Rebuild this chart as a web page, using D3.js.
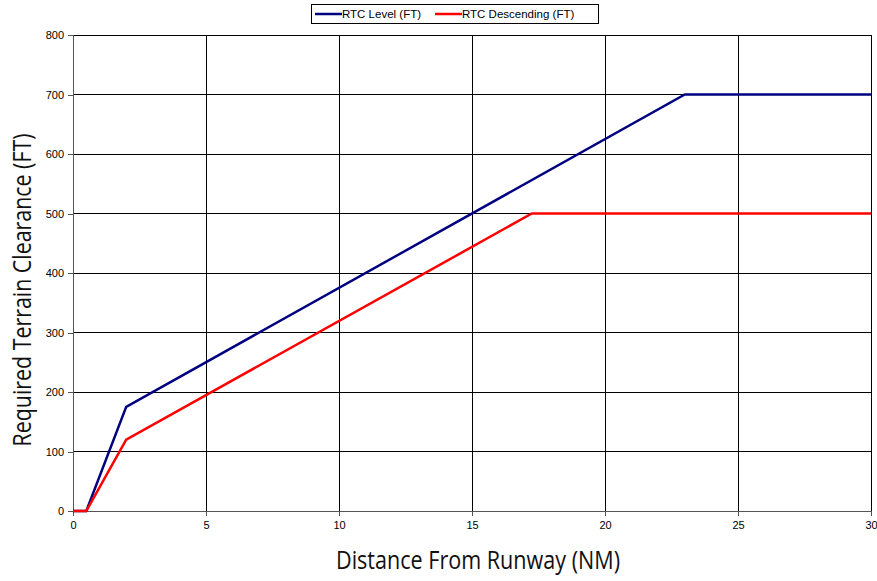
<!DOCTYPE html>
<html><head><meta charset="utf-8">
<script src="https://cdn.jsdelivr.net/npm/d3@7"></script>
<style>body{margin:0;background:#fff;}svg{display:block;}</style>
</head><body>
<svg id="c" width="877" height="581"></svg>
<script>
const seriesNames = ["RTC Level (FT)", "RTC Descending (FT)"];
const seriesColors = ["#000080", "#ff0000"];
const levelX = [0, 0.5, 2, 23, 30];
const levelY = [0, 0, 175, 700, 700];
const descX = [0, 0.5, 2, 17.25, 30];
const descY = [0, 0, 120, 500, 500];
const xTicks = [0, 5, 10, 15, 20, 25, 30];
const yTicks = [0, 100, 200, 300, 400, 500, 600, 700, 800];

const svg = d3.select("#c");
const m = {l: 73, r: 871, t: 35, b: 511};
const x = d3.scaleLinear().domain([0, 30]).range([m.l, m.r]);
const y = d3.scaleLinear().domain([0, 800]).range([m.b, m.t]);

// grid
svg.append("g").selectAll("line").data(yTicks).join("line")
  .attr("x1", m.l).attr("x2", m.r).attr("y1", d => y(d)).attr("y2", d => y(d))
  .attr("stroke", "#000").attr("stroke-width", 1).attr("shape-rendering", "crispEdges");
svg.append("g").selectAll("line").data(xTicks).join("line")
  .attr("x1", d => x(d)).attr("x2", d => x(d)).attr("y1", m.t).attr("y2", m.b)
  .attr("stroke", "#000").attr("stroke-width", 1).attr("shape-rendering", "crispEdges");

// axes
const ya = svg.append("g").attr("transform", `translate(${m.l},0)`)
  .call(d3.axisLeft(y).tickValues(yTicks).tickSize(5).tickPadding(4));
const xa = svg.append("g").attr("transform", `translate(0,${m.b})`)
  .call(d3.axisBottom(x).tickValues(xTicks).tickSize(5).tickPadding(5));
[ya, xa].forEach(a => {
  a.select(".domain").attr("stroke", "#555").attr("shape-rendering", "crispEdges");
  a.selectAll(".tick line").attr("stroke", "#555").attr("shape-rendering", "crispEdges");
  a.selectAll("text").attr("font-family", "Liberation Sans, Arial, sans-serif").attr("font-size", 11).attr("fill", "#000");
});

// lines
const line = d3.line().x(d => x(d[0])).y(d => y(d[1]));
const data = [levelX.map((v, i) => [v, levelY[i]]), descX.map((v, i) => [v, descY[i]])];
data.forEach((d, i) => {
  svg.append("path").datum(d).attr("d", line).attr("fill", "none")
    .attr("stroke", seriesColors[i]).attr("stroke-width", 2.5);
});

// titles
svg.append("text").attr("x", 478).attr("y", 569).attr("text-anchor", "middle")
  .attr("font-family", "Open Sans, sans-serif").attr("font-size", 26).attr("fill", "#111")
  .attr("textLength", 284).attr("lengthAdjust", "spacingAndGlyphs")
  .text("Distance From Runway (NM)");
svg.append("text").attr("transform", `translate(31,290) rotate(-90)`).attr("text-anchor", "middle")
  .attr("font-family", "Open Sans, sans-serif").attr("font-size", 26).attr("fill", "#111")
  .attr("textLength", 313).attr("lengthAdjust", "spacingAndGlyphs")
  .text("Required Terrain Clearance (FT)");

// legend
const lg = svg.append("g");
lg.append("rect").attr("x", 311.5).attr("y", 4.5).attr("width", 287).attr("height", 19)
  .attr("fill", "#fff").attr("stroke", "#000");
const items = [{x: 315, tx: 342}, {x: 435, tx: 462}];
items.forEach((it, i) => {
  lg.append("line").attr("x1", it.x).attr("x2", it.x + 27).attr("y1", 14).attr("y2", 14)
    .attr("stroke", seriesColors[i]).attr("stroke-width", 2.5);
  lg.append("text").attr("x", it.tx).attr("y", 18).attr("font-family", "Liberation Sans, Arial, sans-serif")
    .attr("font-size", 11.5).text(seriesNames[i]);
});
</script>
</body></html>
